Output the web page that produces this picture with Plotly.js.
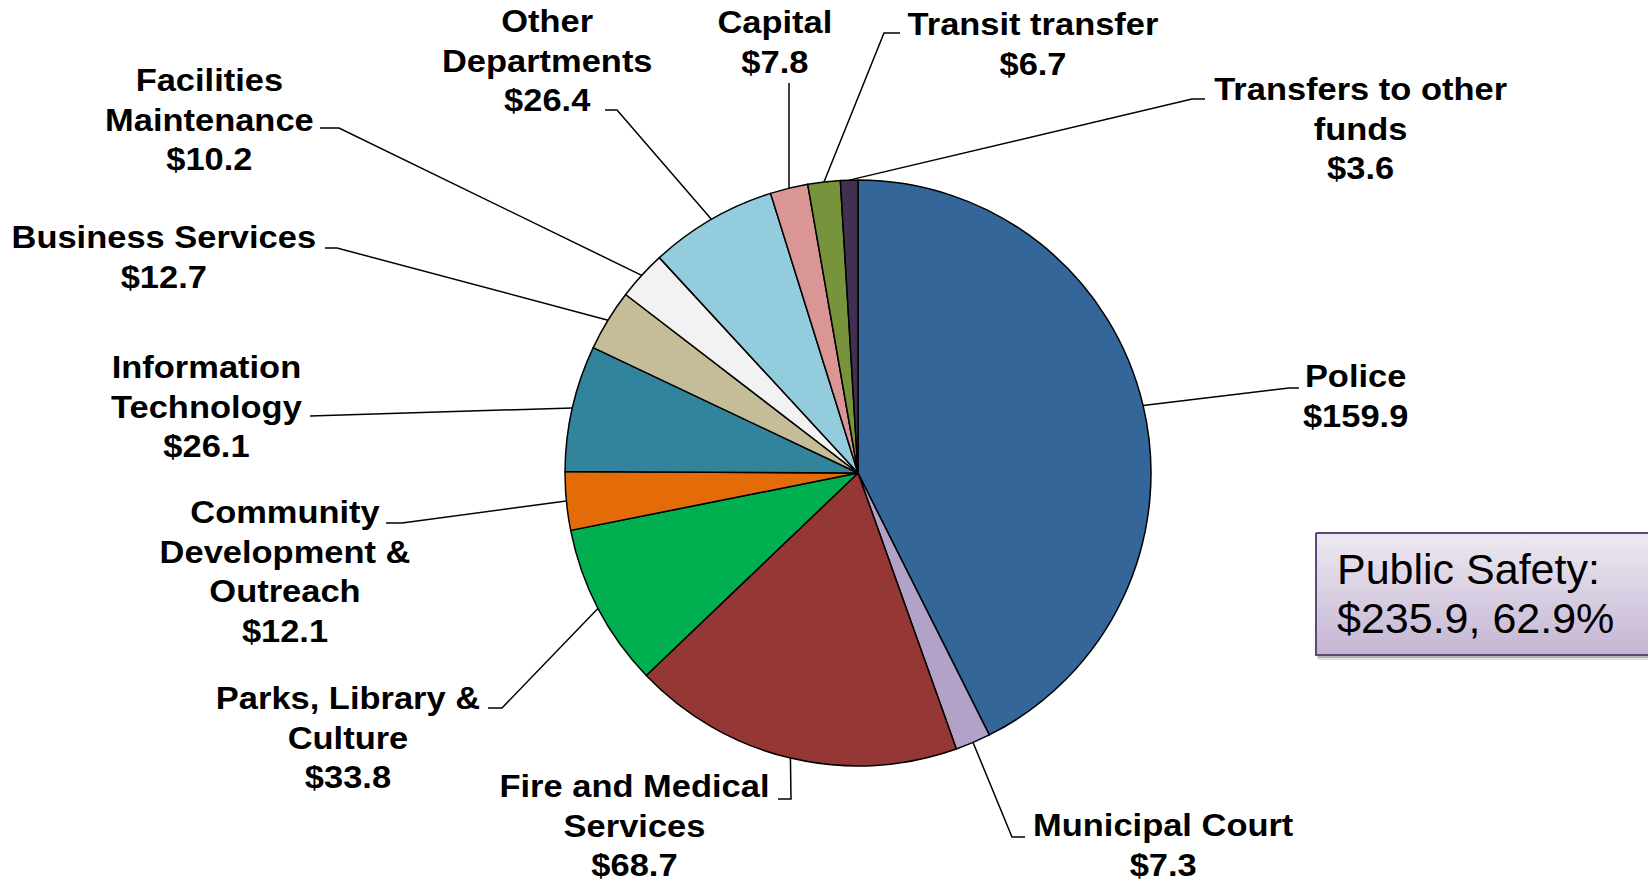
<!DOCTYPE html>
<html>
<head>
<meta charset="utf-8">
<script src="https://cdn.plot.ly/plotly-3.0.1.min.js"></script>
<style>
html,body{margin:0;padding:0;background:#ffffff;}
#chart{width:1648px;height:883px;}
</style>
</head>
<body>
<div id="chart"></div>
<script>
// ---------- DATA ----------
const categories = ["Police", "Municipal Court", "Fire and Medical Services", "Parks, Library & Culture",
  "Community Development & Outreach", "Information Technology", "Business Services",
  "Facilities Maintenance", "Other Departments", "Capital", "Transit transfer", "Transfers to other funds"];
const values = [159.9, 7.3, 68.7, 33.8, 12.1, 26.1, 12.7, 10.2, 26.4, 7.8, 6.7, 3.6];
const labelLines = [["Police"], ["Municipal Court"], ["Fire and Medical", "Services"], ["Parks, Library &", "Culture"],
  ["Community", "Development &", "Outreach"], ["Information", "Technology"], ["Business Services"],
  ["Facilities", "Maintenance"], ["Other", "Departments"], ["Capital"], ["Transit transfer"], ["Transfers to other", "funds"]];
const publicSafety = ["Police", "Municipal Court", "Fire and Medical Services"];
const boxTitle = "Public Safety:";

// ---------- STYLE / LAYOUT ----------
const sliceColors = ["#346699", "#B3A2C7", "#953735", "#00B050", "#E36C09", "#31849B",
  "#C4BD97", "#F2F2F2", "#93CDDD", "#D99694", "#77933C", "#403151"];
const W = 1648, H = 883, CX = 858, CY = 473, R = 293;
const FS = 30.5, LH = 1.3 * FS, STRETCH = 1.13;
const FONT = "Liberation Sans, Arial, sans-serif";
// label centre x, first-line baseline, leader elbow/end points (page px)
const labelPos = [
  {x: 1355, b: 387, path: [[1289, 388], [1299, 388]]},
  {x: 1163, b: 836, path: [[1012, 837], [1025, 837]]},
  {x: 634,  b: 796, path: [[791, 799], [778, 799]]},
  {x: 348,  b: 708, path: [[502, 708], [488, 708]]},
  {x: 285,  b: 523, path: [[402, 523], [386, 523]]},
  {x: 206,  b: 377, path: [[318, 416], [310, 416]]},
  {x: 164,  b: 248, path: [[337, 248], [325, 248]]},
  {x: 209,  b: 90,  path: [[339, 128], [320, 128]]},
  {x: 547,  b: 31,  path: [[617, 110], [605, 110]]},
  {x: 775,  b: 33,  path: [[789, 83]]},
  {x: 1033, b: 35,  path: [[884, 33], [900, 33]]},
  {x: 1360, b: 99,  path: [[1192, 99], [1205, 99]]}
];
const box = {x0: 1316, y0: 533, x1: 1662, y1: 655, textX: 1335, b1: 584, b2: 633, fs: 43};

// ---------- BUILD ----------
const total = values.reduce((a, b) => a + b, 0);
const data = [];
data.push({
  type: "pie",
  values: values,
  labels: categories,
  sort: false,
  direction: "clockwise",
  rotation: 0,
  textinfo: "none",
  hoverinfo: "label+value",
  showlegend: false,
  marker: {colors: sliceColors, line: {color: "#000000", width: 1.5}},
  domain: {x: [(CX - R) / W, (CX + R) / W], y: [(H - CY - R) / H, (H - CY + R) / H]}
});

let cum = 0;
const annotations = [];
values.forEach((v, i) => {
  const mid = (cum + v / 2) / total * 2 * Math.PI;
  cum += v;
  const ex = CX + R * Math.sin(mid), ey = CY - R * Math.cos(mid);
  const p = labelPos[i];
  const xs = [ex].concat(p.path.map(q => q[0]));
  const ys = [ey].concat(p.path.map(q => q[1]));
  data.push({type: "scatter", mode: "lines", x: xs, y: ys, xaxis: "x", yaxis: "y",
    line: {color: "#000000", width: 1.5}, hoverinfo: "skip", showlegend: false});
  const lines = labelLines[i].concat(["$" + v.toFixed(1)]);
  const n = lines.length;
  annotations.push({
    text: lines.join("<br>"), x: p.x, y: p.b + (n - 1) * LH / 2 - 0.3465 * FS,
    xref: "x", yref: "y", showarrow: false, xanchor: "center", yanchor: "middle", align: "center",
    font: {family: FONT, size: FS, color: "#000000", weight: 700}
  });
});

// Public safety box
const psTotal = categories.reduce((s, c, i) => publicSafety.includes(c) ? s + values[i] : s, 0);
const psPct = psTotal / total * 100;
data.push({type: "scatter", mode: "lines", xaxis: "x", yaxis: "y", hoverinfo: "skip", showlegend: false,
  x: [box.x0, box.x1, box.x1, box.x0, box.x0], y: [box.y0, box.y0, box.y1, box.y1, box.y0],
  fill: "toself",
  fillgradient: {type: "vertical", colorscale: [[0, "#EDE9F1"], [1, "#C5B5D3"]], start: box.y0, stop: box.y1},
  line: {color: "#5F497A", width: 2}});
annotations.push({text: boxTitle, x: box.textX, y: box.b1 - 0.3465 * box.fs, xref: "x", yref: "y",
  showarrow: false, xanchor: "left", yanchor: "middle", font: {family: FONT, size: box.fs, color: "#000000"}});
annotations.push({text: "$" + psTotal.toFixed(1) + ", " + psPct.toFixed(1) + "%", x: box.textX, y: box.b2 - 0.3465 * box.fs,
  xref: "x", yref: "y", showarrow: false, xanchor: "left", yanchor: "middle", font: {family: FONT, size: box.fs, color: "#000000"}});

const layout = {
  width: W, height: H,
  margin: {l: 0, r: 0, t: 0, b: 0, pad: 0},
  paper_bgcolor: "#ffffff", plot_bgcolor: "rgba(0,0,0,0)",
  showlegend: false,
  xaxis: {range: [0, W], visible: false, fixedrange: true, domain: [0, 1]},
  yaxis: {range: [H, 0], visible: false, fixedrange: true, domain: [0, 1]},
  shapes: [
    {type: "rect", xref: "x", yref: "y", x0: box.x0 + 2, y0: box.y0 + 3, x1: box.x1 + 4, y1: box.y1 + 5,
      fillcolor: "rgba(0,0,0,0.12)", line: {width: 0}, layer: "below"},
    {type: "rect", xref: "x", yref: "y", x0: box.x0 + 1, y0: box.y0 + 2, x1: box.x1 + 2, y1: box.y1 + 3,
      fillcolor: "rgba(0,0,0,0.18)", line: {width: 0}, layer: "below"}
  ],
  annotations: annotations
};

Plotly.newPlot("chart", data, layout, {staticPlot: true, displayModeBar: false}).then(gd => {
  labelPos.forEach((p, i) => {
    const t = gd.querySelector('.annotation[data-index="' + i + '"] text');
    if (t) {
      t.style.transformBox = "fill-box";
      t.style.transformOrigin = "center";
      t.style.transform = "scaleX(" + STRETCH + ")";
    }
  });
});
</script>
</body>
</html>
